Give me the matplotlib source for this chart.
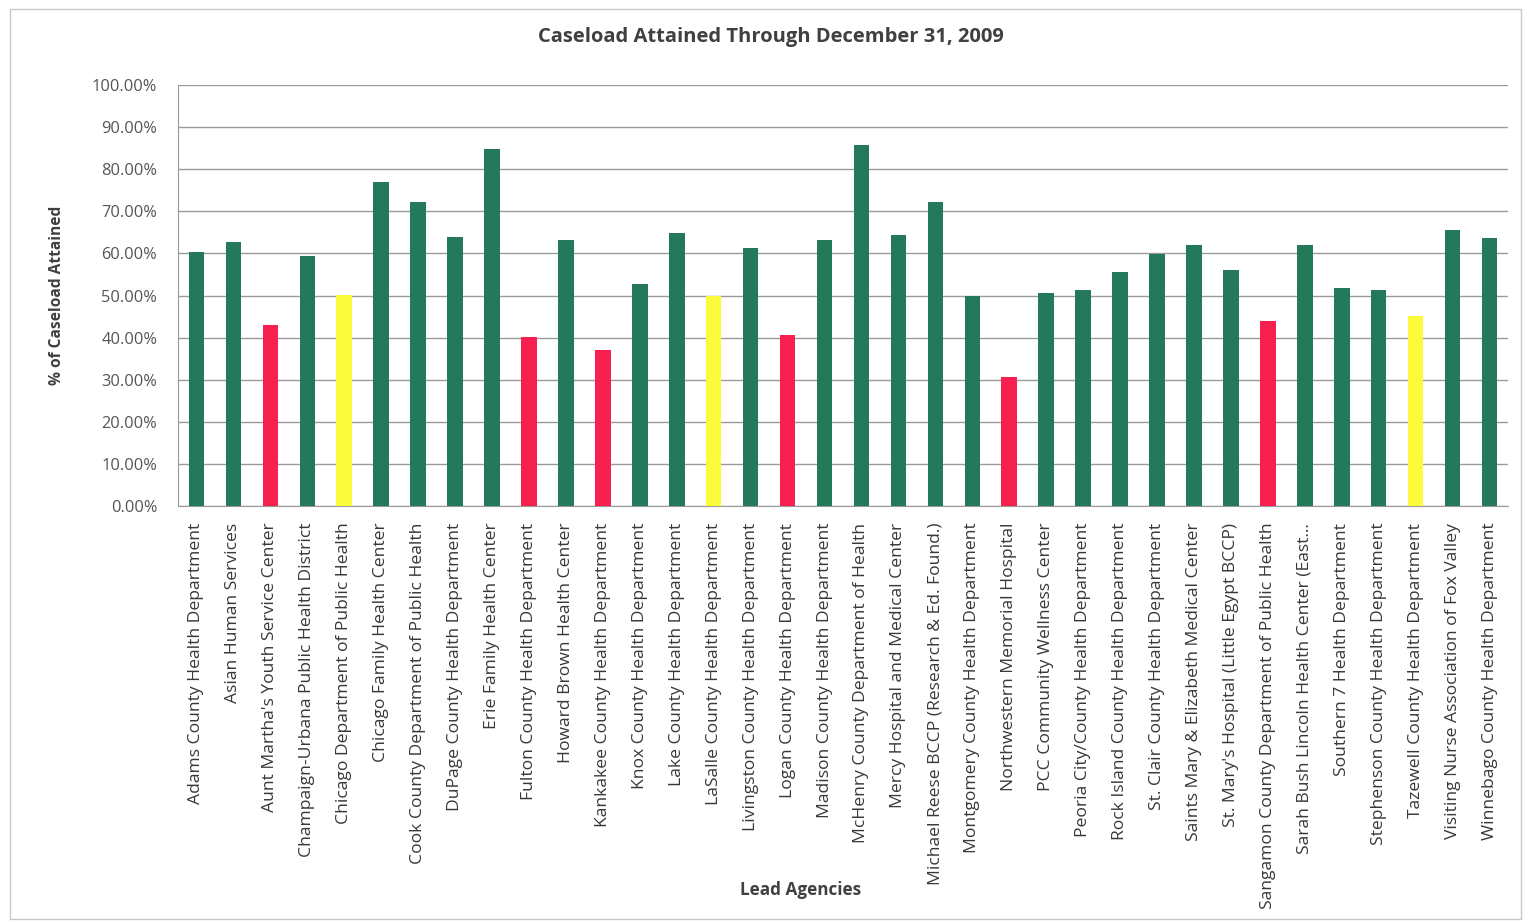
import numpy as np
import matplotlib.pyplot as plt
from matplotlib.ticker import PercentFormatter

agencies = [
    "Adams County Health Department",
    "Asian Human Services",
    "Aunt Martha's Youth Service Center",
    "Champaign-Urbana Public Health District",
    "Chicago Department of Public Health",
    "Chicago Family Health Center",
    "Cook County Department of Public Health",
    "DuPage County Health Department",
    "Erie Family Health Center",
    "Fulton County Health Department",
    "Howard Brown Health Center",
    "Kankakee County Health Department",
    "Knox County Health Department",
    "Lake County Health Department",
    "LaSalle County Health Department",
    "Livingston County Health Department",
    "Logan County Health Department",
    "Madison County Health Department",
    "McHenry County Department of Health",
    "Mercy Hospital and Medical Center",
    "Michael Reese BCCP (Research & Ed. Found.)",
    "Montgomery County Health Department",
    "Northwestern Memorial Hospital",
    "PCC Community Wellness Center",
    "Peoria City/County Health Department",
    "Rock Island County Health Department",
    "St. Clair County Health Department",
    "Saints Mary & Elizabeth Medical Center",
    "St. Mary's Hospital (Little Egypt BCCP)",
    "Sangamon County Department of Public Health",
    "Sarah Bush Lincoln Health Center (East...",
    "Southern 7 Health Department",
    "Stephenson County Health Department",
    "Tazewell County Health Department",
    "Visiting Nurse Association of Fox Valley",
    "Winnebago County Health Department",
]

attained = [
    60.3, 62.8, 42.9, 59.5, 50.2, 76.9, 72.3, 64.0, 84.8, 40.2,
    63.2, 37.0, 52.8, 64.8, 49.8, 61.3, 40.5, 63.2, 85.7, 64.4,
    72.2, 49.8, 30.7, 50.6, 51.4, 55.6, 59.9, 62.1, 56.0, 44.0,
    61.9, 51.7, 51.2, 45.1, 65.6, 63.7,
]

# status per bar: g = on track, y = borderline, r = behind
status = [
    "g", "g", "r", "g", "y", "g", "g", "g", "g", "r",
    "g", "r", "g", "g", "y", "g", "r", "g", "g", "g",
    "g", "g", "r", "g", "g", "g", "g", "g", "g", "r",
    "g", "g", "g", "y", "g", "g",
]

palette = {"g": "#23795a", "y": "#fbfb3c", "r": "#f8204f"}
colors = [palette[s] for s in status]

plt.rcParams['font.family'] = ['Open Sans', 'DejaVu Sans']

fig = plt.figure(figsize=(15.31, 9.24), dpi=100)
ax = fig.add_axes([178/1531, 1 - 506/924, (1508-178)/1531, (506-85)/924])

x = np.arange(len(agencies))
ax.bar(x, attained, width=0.42, color=colors, zorder=3)

ax.set_xlim(-0.5, len(agencies) - 0.5)
ax.set_ylim(0, 100)
ax.set_yticks(np.arange(0, 101, 10))
ax.yaxis.set_major_formatter(PercentFormatter(decimals=2))
ax.grid(axis='y', color='#9a9a9a', linewidth=1.0, zorder=0)

ax.set_xticks(x)
ax.set_xticklabels(agencies, rotation=90, fontsize=12.6, color='#383838')
ax.tick_params(axis='y', labelsize=11.8, labelcolor='#555555', length=0, pad=15)
ax.tick_params(axis='x', length=0, pad=12)

for side in ['top', 'right']:
    ax.spines[side].set_visible(False)
ax.spines['left'].set_color('#9a9a9a')
ax.spines['bottom'].set_color('#9a9a9a')

fig.text(57/1531, 1 - 295/924, "% of Caseload Attained", rotation=90, ha='center', va='center',
         fontsize=11.2, fontweight='bold', color='#404040')
fig.text(801/1531, 1 - 890/924, "Lead Agencies", ha='center', va='center',
         fontsize=12.3, fontweight='bold', color='#404040')
fig.text(771/1531, 1 - 37/924, "Caseload Attained Through December 31, 2009",
         ha='center', va='center', fontsize=14.5, fontweight='bold', color='#404040')

# outer chart border
fig.patches.append(plt.Rectangle((10/1531, 0.005), 1 - 20/1531, 0.985, transform=fig.transFigure,
                                 fill=False, edgecolor='#c8c8c8', linewidth=1.0))

fig.savefig("out.png", dpi=100)
